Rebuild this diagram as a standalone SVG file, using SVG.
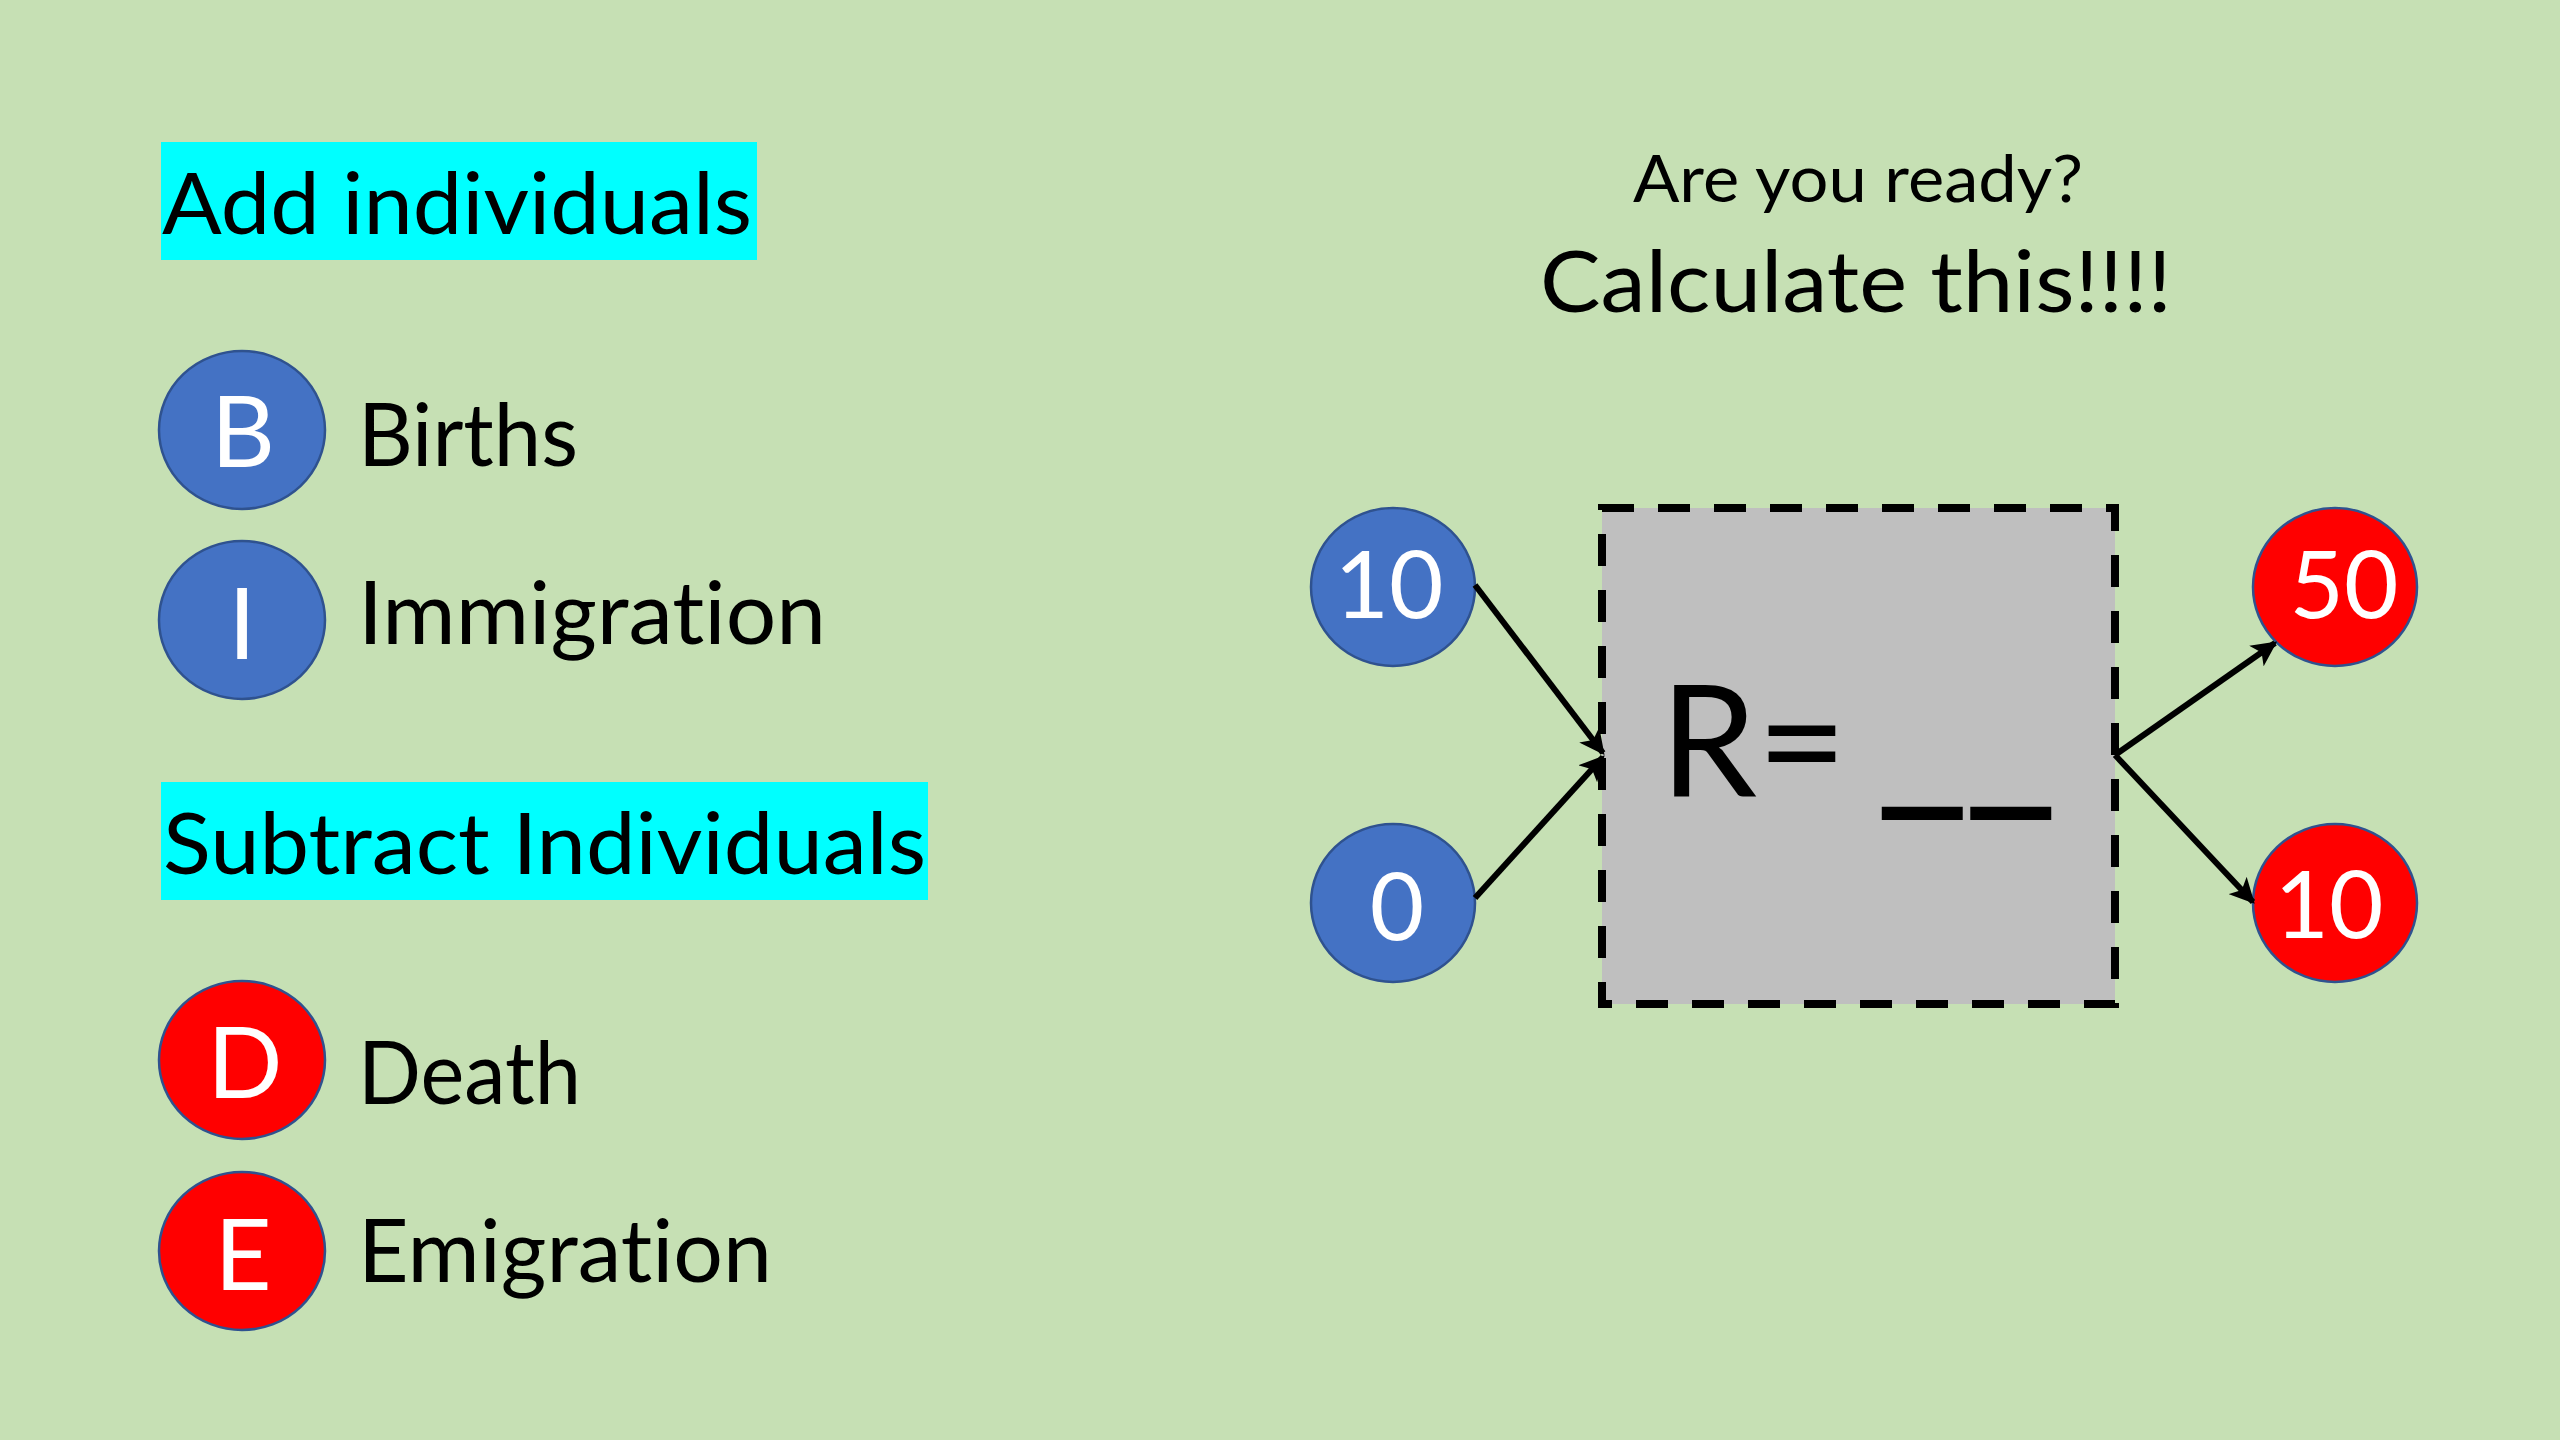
<svg xmlns="http://www.w3.org/2000/svg" width="2560" height="1440" viewBox="0 0 2560 1440">
<defs>
<style>
.t{font-family:Lato,"Open Sans","Liberation Sans",sans-serif;fill:#000;font-variant-ligatures:none}
.w{font-family:Lato,"Open Sans","Liberation Sans",sans-serif;fill:#fff;text-anchor:middle}
.blue{fill:#4472C4;stroke:#2F528F;stroke-width:2.5}
.red{fill:#FF0000;stroke:#2F528F;stroke-width:2.5}
.hl{fill:#00FFFF}
.conn{stroke:#000;stroke-width:6;fill:none;marker-end:url(#ah)}
</style>
<marker id="ah" viewBox="0 0 10 10" refX="9" refY="5" markerWidth="4.2" markerHeight="4.2" orient="auto" markerUnits="strokeWidth">
<path d="M0,0 L10,5 L0,10 L2.5,5 z" fill="#000"/>
</marker>
</defs>
<rect width="2560" height="1440" fill="#C6E0B4"/>

<g id="add-heading">
<rect class="hl" x="161" y="142" width="596" height="118"/>
<text class="t" x="162" y="234" font-size="86" textLength="590" lengthAdjust="spacingAndGlyphs">Add individuals</text>
</g>
<g id="node-B">
<ellipse class="blue" cx="242" cy="430" rx="83" ry="79"/>
<text class="w" x="243" y="467" font-size="99">B</text>
</g>
<text class="t" x="358" y="466" font-size="88" textLength="220" lengthAdjust="spacingAndGlyphs">Births</text>
<g id="node-I">
<ellipse class="blue" cx="242" cy="620" rx="83" ry="79"/>
<text class="w" x="242" y="659" font-size="99">I</text>
</g>
<text class="t" x="358" y="644" font-size="88" textLength="468" lengthAdjust="spacingAndGlyphs">Immigration</text>

<g id="subtract-heading">
<rect class="hl" x="161" y="782" width="767" height="118"/>
<text class="t" x="163" y="874" font-size="86" textLength="763" lengthAdjust="spacingAndGlyphs">Subtract Individuals</text>
</g>
<g id="node-D">
<ellipse class="red" cx="242" cy="1060" rx="83" ry="79"/>
<text class="w" x="245" y="1098" font-size="99">D</text>
</g>
<text class="t" x="358" y="1104" font-size="88" textLength="223" lengthAdjust="spacingAndGlyphs">Death</text>
<g id="node-E">
<ellipse class="red" cx="242" cy="1251" rx="83" ry="79"/>
<text class="w" x="243" y="1290" font-size="99">E</text>
</g>
<text class="t" x="358" y="1282" font-size="88" textLength="414" lengthAdjust="spacingAndGlyphs">Emigration</text>

<g id="title">
<text class="t" x="1633" y="202" font-size="65" textLength="450" lengthAdjust="spacingAndGlyphs">Are you ready?</text>
<text class="t" x="1540" y="312" font-size="86" textLength="632" lengthAdjust="spacingAndGlyphs">Calculate this!!!!</text>
</g>

<g id="box">
<rect x="1602" y="508" width="513" height="496" fill="#BFBFBF" stroke="#000" stroke-width="8" stroke-dasharray="32 24"/>
<text class="t" x="1660" y="796" font-size="155">R=<tspan x="1878" textLength="177" lengthAdjust="spacingAndGlyphs" stroke="#000" stroke-width="4">__</tspan></text>
</g>

<g id="in-10">
<ellipse class="blue" cx="1393" cy="587" rx="82" ry="79"/>
<text class="w" x="1389" y="618" font-size="94">10</text>
</g>
<g id="in-0">
<ellipse class="blue" cx="1393" cy="903" rx="82" ry="79"/>
<text class="w" x="1397" y="940" font-size="94">0</text>
</g>
<g id="out-50">
<ellipse class="red" cx="2335" cy="587" rx="82" ry="79"/>
<text class="w" x="2344" y="618" font-size="94">50</text>
</g>
<g id="out-10">
<ellipse class="red" cx="2335" cy="903" rx="82" ry="79"/>
<text class="w" x="2329" y="938" font-size="94">10</text>
</g>

<g id="connectors">
<line class="conn" x1="1475" y1="585" x2="1603" y2="753"/>
<line class="conn" x1="1475" y1="898" x2="1603" y2="757"/>
<line class="conn" x1="2115" y1="755" x2="2275" y2="643"/>
<line class="conn" x1="2115" y1="755" x2="2253" y2="902"/>
</g>
</svg>
